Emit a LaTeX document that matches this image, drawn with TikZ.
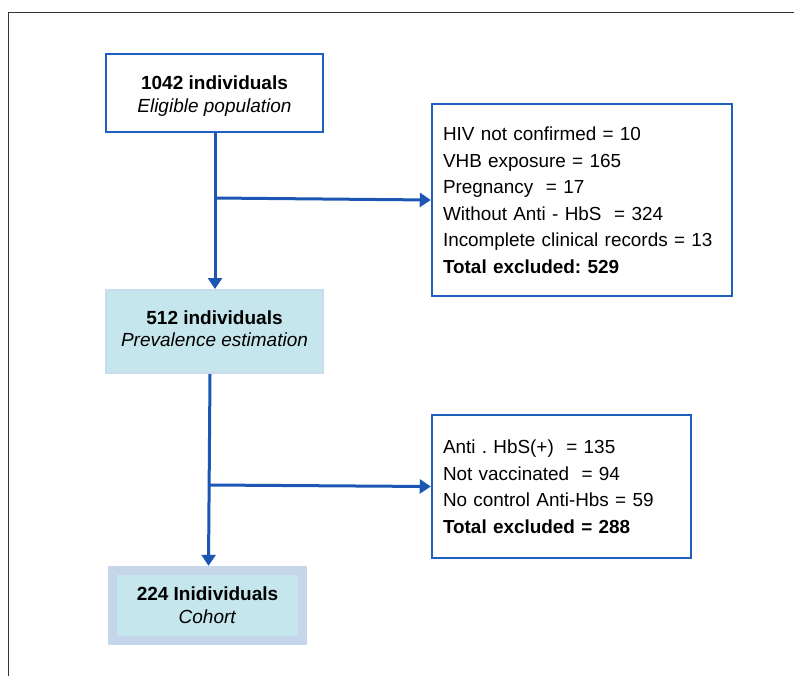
\documentclass[tikz,border=0pt]{standalone}
\usepackage{fontspec}
\setmainfont{Liberation Sans}
\usetikzlibrary{arrows.meta}
\frenchspacing
\definecolor{bdblue}{HTML}{1F5FBF}
\definecolor{arblue}{HTML}{1C56B5}
\definecolor{cyanfill}{HTML}{C5E6EC}
\definecolor{lavfill}{HTML}{C6D6EA}
\definecolor{lightbd}{HTML}{C9DBEE}
\definecolor{framegray}{HTML}{333333}
\tikzset{
  boxtext/.style={inner sep=0pt, align=center, font=\fontsize{19}{23}\selectfont},
  mainbox/.style={draw=bdblue, line width=2.5pt, fill=white, inner sep=0pt},
  cyanbox/.style={draw=lightbd, line width=2pt, fill=cyanfill, inner sep=0pt},
  exclbox/.style={draw=bdblue, line width=2.5pt, fill=white, inner xsep=11pt, inner ysep=0pt, align=left, font=\fontsize{18.9}{26.5}\selectfont},
  flowarrow/.style={draw=arblue, line width=3pt, -{Triangle[width=14pt,length=11pt]}},
}
\begin{document}
\begin{tikzpicture}[x=1pt,y=-1pt]
\useasboundingbox (0,0) rectangle (794,675);
% outer frame (open to right and bottom)
\draw[framegray, line width=1.5pt] (8.5,680) -- (8.5,12.5) -- (800,12.5);
% boxes
\node[mainbox, minimum width=217pt, minimum height=78pt,
  label={[boxtext, yshift=-3pt]center:{\textbf{1042 individuals}\\\textit{Eligible population}}}] (b1) at (214.5,93) {};
\node[exclbox, text width=278pt, minimum height=192pt] (e1) at (582,200)
  {HIV not confirmed = 10\\VHB exposure = 165\\Pregnancy\ \ = 17\\Without Anti - HbS\ \ = 324\\Incomplete clinical records = 13\\\textbf{Total excluded: 529}};
\node[cyanbox, minimum width=217pt, minimum height=83pt,
  label={[boxtext, font=\fontsize{19}{22}\selectfont, yshift=3pt]center:{\textbf{512 individuals}\\\textit{Prevalence estimation}}}] (b2) at (214.5,331.5) {};
\node[exclbox, text width=237pt, minimum height=143pt] (e2) at (561.5,486.5)
  {Anti . HbS(+)\ \ = 135\\Not vaccinated\ \ = 94\\No control Anti-Hbs = 59\\\textbf{Total excluded = 288}};
\node[draw=none, fill=lavfill, minimum width=199pt, minimum height=79pt, inner sep=0pt] (b3o) at (207,605.5) {};
\node[fill=cyanfill, minimum width=181pt, minimum height=61pt, boxtext] (b3) at (207.5,605.5)
  {\textbf{224 Inidividuals}\\\textit{Cohort}};
% connectors
\coordinate (j1) at (215,198);
\coordinate (j2) at (210,485);
\draw[flowarrow] (b1.south -| j1) -- (b2.north -| j1);
\draw[flowarrow] (j1) -- (e1.west);
\draw[flowarrow] ([xshift=-4.5pt]b2.south) -- (b3o.north -| 208.5,0);
\draw[flowarrow] (j2) -- (e2.west);
\end{tikzpicture}
\end{document}
